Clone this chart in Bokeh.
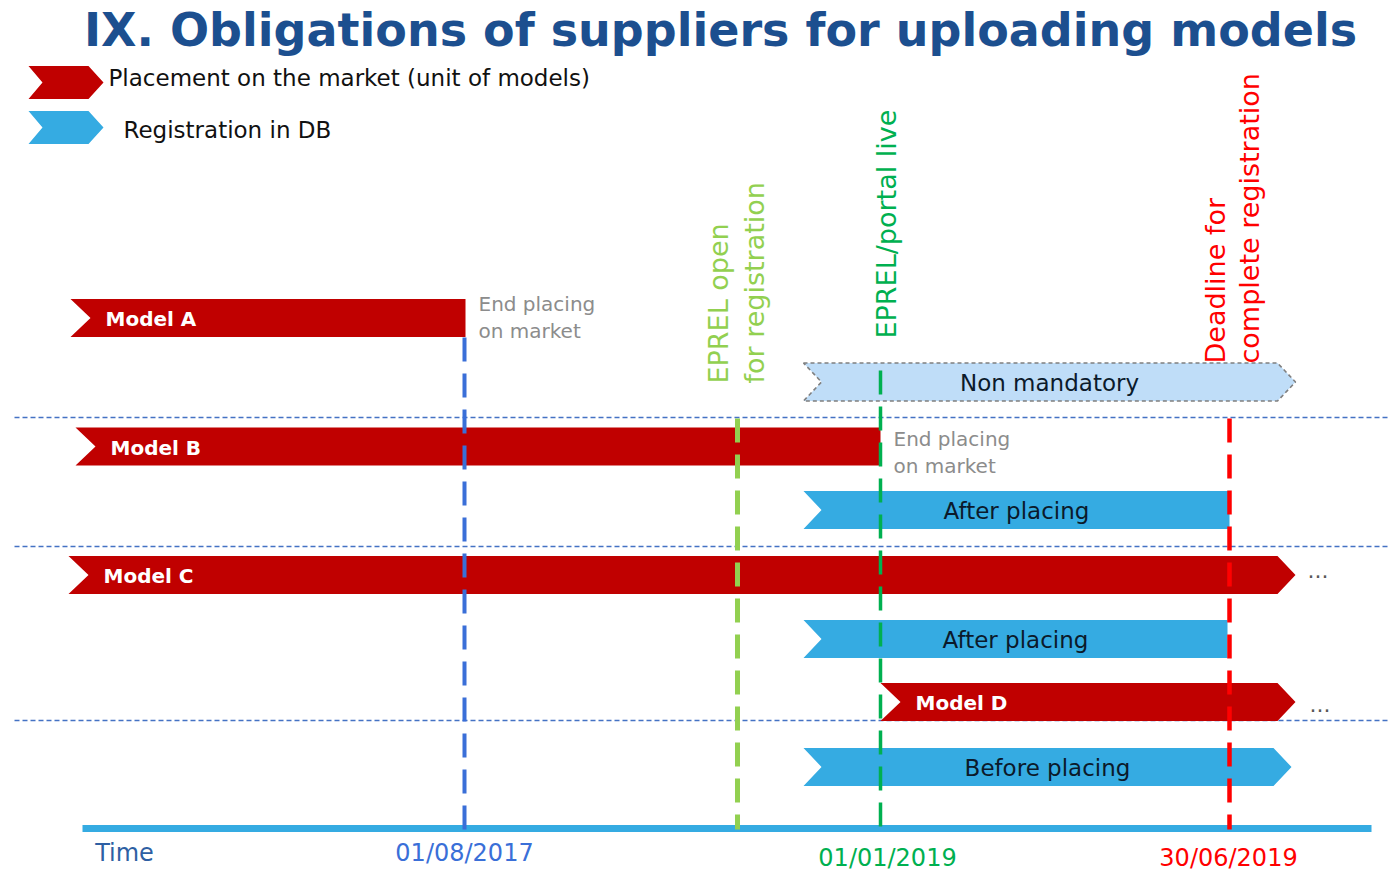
from math import pi
from bokeh.plotting import figure
from bokeh.models import Range1d, ColumnDataSource
from bokeh.core.properties import value
from bokeh.embed import file_html
from bokeh.resources import INLINE

FONT = "DejaVu Sans"

# ---------------- data ----------------
title_text = "IX. Obligations of suppliers for uploading models"

legend_labels = ["Placement on the market (unit of models)", "Registration in DB"]
legend_kinds = ["market", "reg"]
legend_rows = [82, 127]
legend_text_x = [108, 123]
legend_text_y = [77, 129]

bar_labels = ["Model A", "Model B", "After placing", "Model C",
              "After placing", "Model D", "Before placing", "Non mandatory"]
bar_kinds = ["market", "market", "reg", "market", "reg", "market", "reg", "optional"]
bar_start = [70, 75, 803, 68, 803, 880, 803, 803]
bar_end = [465, 880, 1229, 1295, 1227, 1295, 1291, 1295]
bar_row = [317.5, 446, 509.5, 574.5, 638.5, 701.5, 766.5, 381.5]
bar_arrow = [False, False, False, True, False, True, True, True]

end_notes = ["End placing\non market", "End placing\non market"]
end_note_x = [478, 893]
end_note_y = [303, 438]

more_x = [1307, 1309]
more_y = [569, 703]

separator_y = [417, 546, 720]

milestone_x = [464, 737, 880, 1229]
milestone_top = [337, 418, 370, 418]
milestone_colors = ["#3A6FD8", "#92D050", "#00B050", "#FF0000"]
milestone_widths = [4, 5, 3.5, 4.5]

milestone_notes = [["EPREL open", "for registration"], ["EPREL/portal live"],
                   ["Deadline for", "complete registration"]]
milestone_note_x = [[718, 754], [886], [1215, 1249]]
milestone_note_base = [383, 338, 363]
milestone_note_colors = ["#92D050", "#00B050", "#FF0000"]

time_labels = ["Time", "01/08/2017", "01/01/2019", "30/06/2019"]
time_label_x = [124, 464, 887, 1228]
time_label_y = [852, 852, 857, 857]
time_label_colors = ["#2E5FA3", "#3A6FD8", "#00B050", "#FF0000"]

# ---------------- styles ----------------
fill = {"market": "#C00000", "reg": "#35ABE2", "optional": "#BFDDF8"}
text_col = {"market": "white", "reg": "#0B1A2B", "optional": "#0B1A2B"}


def chevron(x0, x1, yc, h, notch, tip):
    xs = [x0, x1 - tip, x1, x1 - tip, x0, x0 + notch]
    ys = [yc - h, yc - h, yc, yc + h, yc + h, yc]
    return xs, ys


W, H = 1392, 870
p = figure(width=W, height=H, x_range=Range1d(0, W), y_range=Range1d(H, 0),
           output_backend="svg", toolbar_location=None, min_border=0,
           x_axis_location=None, y_axis_location=None)
p.grid.visible = False
p.outline_line_color = None
p.background_fill_color = "white"
p.border_fill_color = "white"

# title
p.text(x=[720], y=[29], text=[title_text], text_font=value(FONT), text_font_style="bold",
       text_font_size="46px", text_color="#1C4F8F", text_align="center", text_baseline="middle")

# legend
for lab, kind, yc, tx, ty in zip(legend_labels, legend_kinds, legend_rows, legend_text_x, legend_text_y):
    xs, ys = chevron(28, 103, yc, 16.5, 14, 15)
    p.patch(xs, ys, fill_color=fill[kind], line_color=None)
    p.text(x=[tx], y=[ty], text=[lab], text_font=value(FONT), text_font_size="23px",
           text_color="#111111", text_align="left", text_baseline="middle")

# separators
for sy in separator_y:
    p.line([14, 1390], [sy, sy], line_color="#4472C4", line_width=1.3, line_dash="5 3")

# time axis
p.line([82, 1371], [828, 828], line_color="#35ABE2", line_width=7)

# bars
pxs, pys = [], []
for lab, kind, x0, x1, yc, arr in zip(bar_labels, bar_kinds, bar_start, bar_end, bar_row, bar_arrow):
    notch = 18 if kind != "market" else 20
    xs, ys = chevron(x0, x1, yc, 19, notch, 18 if arr else 0)
    pxs.append(xs)
    pys.append(ys)
src = ColumnDataSource(dict(xs=pxs, ys=pys, fc=[fill[k] for k in bar_kinds]))
p.patches("xs", "ys", source=src, fill_color="fc", line_color="fc", line_alpha=0)
for xs, ys, kind in zip(pxs, pys, bar_kinds):
    if kind == "optional":
        p.patch(xs + [xs[0]], ys + [ys[0]], fill_alpha=0, line_color="#7F7F7F",
                line_width=1.6, line_dash="4 3")

# milestone dashed lines
for mx, top, col, w in zip(milestone_x, milestone_top, milestone_colors, milestone_widths):
    p.line([mx, mx], [top, 829], line_color=col, line_width=w, line_dash="24 12")

# bar labels
for lab, kind, x0, x1, yc in zip(bar_labels, bar_kinds, bar_start, bar_end, bar_row):
    if kind == "market":
        p.text(x=[x0 + 35], y=[yc + 1], text=[lab], text_font=value(FONT), text_font_style="bold",
               text_font_size="20px", text_color="white", text_align="left", text_baseline="middle")
    else:
        p.text(x=[(x0 + x1) / 2], y=[yc + 1], text=[lab], text_font=value(FONT),
               text_font_size="23px", text_color=text_col[kind], text_align="center",
               text_baseline="middle")

# end placing notes
for note, nx, ny in zip(end_notes, end_note_x, end_note_y):
    for i, line in enumerate(note.split("\n")):
        p.text(x=[nx], y=[ny + 27 * i], text=[line], text_font=value(FONT), text_font_size="20px",
               text_color="#8C8C8C", text_align="left", text_baseline="middle")

# continuation dots
p.text(x=more_x, y=more_y, text=["..."] * len(more_x), text_font=value(FONT),
       text_font_size="22px", text_color="#595959", text_align="left", text_baseline="middle")

# milestone rotated notes
for lines, xs_, base, col in zip(milestone_notes, milestone_note_x, milestone_note_base, milestone_note_colors):
    for line, lx in zip(lines, xs_):
        p.text(x=[lx], y=[base], text=[line], angle=pi / 2, text_font=value(FONT),
               text_font_size="27px", text_color=col, text_align="left", text_baseline="middle")

# time labels
for lab, lx, ly, col in zip(time_labels, time_label_x, time_label_y, time_label_colors):
    p.text(x=[lx], y=[ly], text=[lab], text_font=value(FONT), text_font_size="24px",
           text_color=col, text_align="center", text_baseline="middle")

open("out.html", "w").write(file_html(p, INLINE))
